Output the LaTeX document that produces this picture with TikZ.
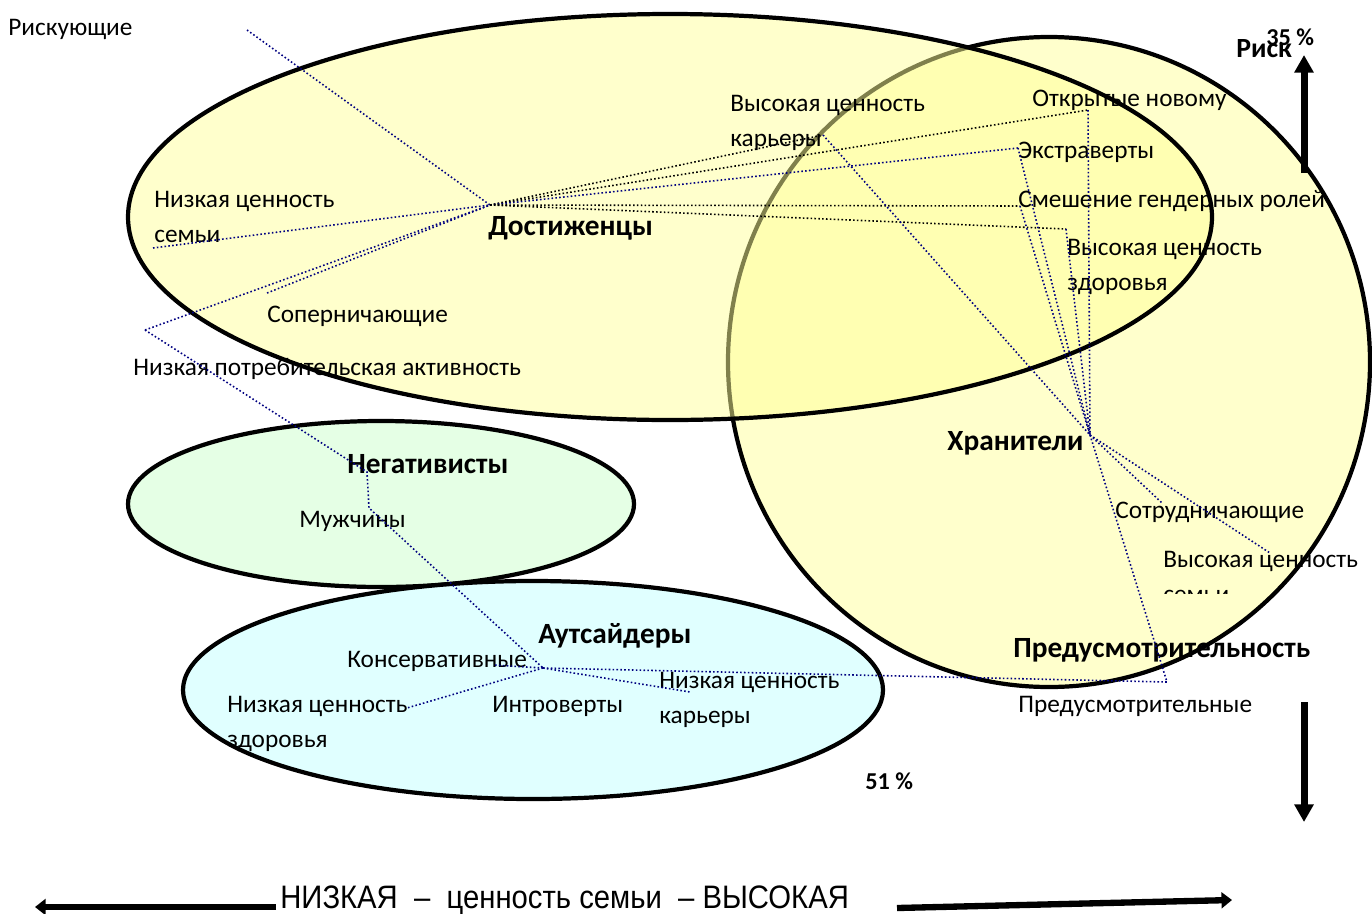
\documentclass[tikz,border=0pt]{standalone}
\usepackage{fontspec}
\setmainfont{Carlito}
\newfontfamily\narrowfont[FakeStretch=0.9]{Liberation Sans}
\usetikzlibrary{arrows.meta}
\definecolor{navyline}{HTML}{000080}
\definecolor{achfill}{HTML}{FFFF99}
\definecolor{keepfill}{HTML}{FFFFCC}
\definecolor{negfill}{HTML}{E5FFE5}
\definecolor{outfill}{HTML}{E0FFFF}

\begin{document}
\begin{tikzpicture}[x=0.02cm,y=-0.02cm,
    lbl/.style={anchor=base west,inner sep=0pt,align=left,font=\fontsize{14.4}{19.8}\selectfont},
    grp/.style={anchor=base west,inner sep=0pt,font=\fontsize{16.7}{19}\selectfont\bfseries},
    pct/.style={anchor=base west,inner sep=0pt,font=\fontsize{13.8}{15}\selectfont\bfseries},
    bluedot/.style={draw=navyline,line width=0.9pt,dash pattern=on 0.9pt off 1.3pt},
    blackdot/.style={draw=black,line width=0.9pt,dash pattern=on 0.9pt off 1.3pt},
    cloud/.style={draw=black,line width=2.4pt},
    riskarrow/.style={line width=4pt,-{Triangle[length=10pt,width=10.5pt]}},
    famarrow/.style={line width=3.6pt,-{Triangle[length=6pt,width=9pt]}}]
    \useasboundingbox (0,0) rectangle (1372,913);

    % groups
    \draw [cloud,fill=keepfill] (1049,362) ellipse [x radius=321,y radius=325];
    \draw [cloud,fill=achfill,fill opacity=0.5] (670,217) ellipse [x radius=542,y radius=203];
    \draw [cloud,fill=negfill] (381,504) ellipse [x radius=253,y radius=83];
    \draw [cloud,fill=outfill] (533,690) ellipse [x radius=350,y radius=109];

    % labels
    \node [lbl] (risky) at (8,35) {Рискующие};
    \node [lbl] (lowfamtext) at (154,242) {Низкая ценность\\семьи};
    \node [grp] (achievers) at (488,235) {Достиженцы};
    \node [lbl] (careertext) at (730,146) {Высокая ценность\\карьеры};
    \node [lbl] (opentext) at (1032,106) {Открытые новому};
    \node [lbl] (extratext) at (1018,158) {Экстраверты};
    \node [lbl] (gendertext) at (1018,207) {Смешение гендерных ролей};
    \node [lbl] (healthtext) at (1067,290) {Высокая ценность\\здоровья};
    \node [lbl] (rivaltext) at (267,322) {Соперничающие};
    \node [lbl] (lowconstext) at (133,375) {Низкая потребительская активность};
    \node [grp] (keepers) at (947,450) {Хранители};
    \node [grp] (negativists) at (347,473) {Негативисты};
    \node [lbl] (mentext) at (299,527) {Мужчины};
    \node [lbl] (cooptext) at (1115,518) {Сотрудничающие};
    \begin{scope}
        \clip (1150,540) rectangle (1372,593);
        \node [lbl] (hifamtext) at (1163,602) {Высокая ценность\\семьи};
    \end{scope}
    \node [grp] (outsiders) at (538,643) {Аутсайдеры};
    \node [lbl] (conservtext) at (347,667) {Консервативные};
    \node [lbl] (lowhealthtext) at (227,747) {Низкая ценность\\здоровья};
    \node [lbl] (introtext) at (492,712) {Интроверты};
    \node [lbl] (lowcareertext) at (659,723) {Низкая ценность\\карьеры};
    \node [grp] (prudence) at (1013,657) {Предусмотрительность};
    \node [lbl] (prudtext) at (1018,712) {Предусмотрительные};
    \node [pct] (pctlow) at (865,789) {51 \%};
    \node [pct] (pcthigh) at (1266,45) {35 \%};
    \node [grp,font=\fontsize{15.8}{18}\selectfont\bfseries] (risk) at (1236,57) {Риск};
    \node [anchor=base west,inner sep=0pt,font=\narrowfont\fontsize{18.5}{20}\selectfont] (famaxis) at (280,908) {НИЗКАЯ \ – \ ценность семьи \ – ВЫСОКАЯ};

    % hubs and bends
    \coordinate (dhub) at (490,205);
    \coordinate (khub) at (1090,435);
    \coordinate (ahub) at (543,668);
    \coordinate (riskend) at (247,30);
    \coordinate (lowfam) at (153,248);
    \coordinate (rival) at (267,293);
    \coordinate (lowcons) at (145,330);
    \coordinate (negbend) at (367,472);
    \coordinate (men) at (369,508);
    \coordinate (career) at (823,135);
    \coordinate (open) at (1088,110);
    \coordinate (extra) at (1018,148);
    \coordinate (gender) at (1020,206);
    \coordinate (health) at (1066,229);
    \coordinate (coop) at (1162,503);
    \coordinate (hifam) at (1270,553);
    \coordinate (prud) at (1167,682);
    \coordinate (conserv) at (493,665);
    \coordinate (lowhealth) at (407,708);
    \coordinate (lowcareer) at (690,692);

    \draw [bluedot] (riskend) -- (dhub);
    \draw [bluedot] (lowfam) -- (dhub);
    \draw [bluedot] (rival) -- (dhub);
    \draw [bluedot] (lowcons) -- (dhub);
    \draw [bluedot] (lowcons) -- (negbend) -- (men) -- (ahub);
    \draw [blackdot] (dhub) -- (career);
    \draw [blackdot] (dhub) -- (open);
    \draw [bluedot] (dhub) -- (extra);
    \draw [blackdot] (dhub) -- (gender);
    \draw [blackdot] (dhub) -- (health);
    \draw [bluedot] (career) -- (khub);
    \draw [bluedot] (open) -- (khub);
    \draw [bluedot] (extra) -- (khub);
    \draw [bluedot] (gender) -- (khub);
    \draw [bluedot] (health) -- (khub);
    \draw [bluedot] (khub) -- (coop);
    \draw [bluedot] (khub) -- (hifam);
    \draw [bluedot] (khub) -- (prud) -- (ahub);
    \draw [bluedot] (ahub) -- (conserv);
    \draw [bluedot] (ahub) -- (lowhealth);
    \draw [bluedot] (ahub) -- (lowcareer);

    % axes
    \coordinate (riskfoot) at (1304,173);
    \coordinate (risktop) at (1304,55);
    \coordinate (safetop) at (1304,702);
    \coordinate (safefoot) at (1304,822);
    \coordinate (lowstart) at (276,907);
    \coordinate (lowend) at (35,907);
    \coordinate (highstart) at (897,908);
    \coordinate (highend) at (1232,900);
    \draw [riskarrow] (riskfoot) -- (risktop);
    \draw [riskarrow] (safetop) -- (safefoot);
    \draw [famarrow] (lowstart) -- (lowend);
    \draw [famarrow] (highstart) -- (highend);
\end{tikzpicture}
\end{document}
